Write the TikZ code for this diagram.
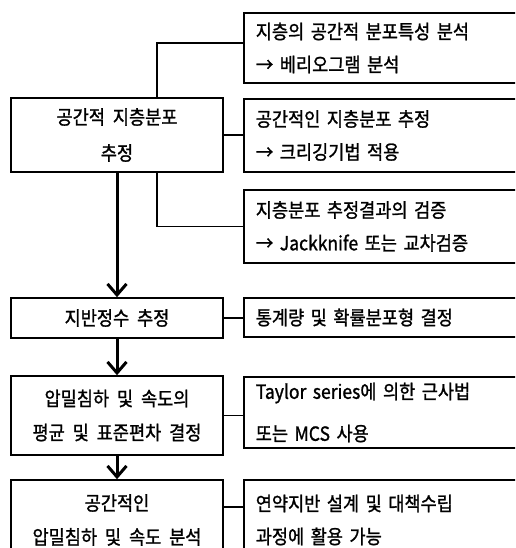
\documentclass[tikz,border=0pt]{standalone}
\usepackage{fontspec}
\newfontfamily\krfont{Noto Sans CJK KR}[WordSpace=2,FakeBold=1.2,FakeStretch=0.9]
\usetikzlibrary{arrows.meta}
\tikzset{
  every node/.style={font=\krfont\fontsize{19.5}{33}\selectfont},
  lbox/.style={draw, line width=1.6pt, minimum width=212pt, align=center, inner sep=0pt},
  rbox/.style={draw, line width=1.6pt, minimum width=290pt, text width=266pt, inner xsep=12pt, inner ysep=0pt, align=left, anchor=west},
  link/.style={line width=1.3pt},
  flow/.style={line width=3pt, -{Straight Barb[length=11pt,width=19pt]}},
}

\begin{document}
\begin{tikzpicture}[x=1pt,y=-1pt]
\useasboundingbox (0,0) rectangle (515,548);
\clip (0,0) rectangle (515,548);
% left column
\node[lbox,minimum height=74pt] (est) at (117,135) {공간적 지층분포\\[3pt]추정};
\node[lbox,minimum height=40pt] (param) at (117,318) {지반정수 추정};
\node[lbox,minimum height=79pt] (mean) at (117,415.5) {압밀침하 및 속도의\\[1pt]평균 및 표준편차 결정};
\node[lbox,minimum height=80pt] (anal) at (117,520) {공간적인\\[1pt]압밀침하 및 속도 분석};
% right column
\node[rbox,minimum height=70pt] (vario) at (243,48) {지층의 공간적 분포특성 분석\\→ 베리오그램 분석};
\node[rbox,minimum height=73pt] (krig) at (243,135.5) {공간적인 지층분포 추정\\→ 크리깅기법 적용};
\node[rbox,minimum height=73pt] (jack) at (243,226.5) {지층분포 추정결과의 검증\\→ Jackknife 또는 교차검증};
\node[rbox,minimum height=39pt] (stat) at (243,317.5) {통계량 및 확률분포형 결정};
\node[rbox,minimum height=71pt] (taylor) at (243,412.5) {Taylor series에 의한 근사법\\[9pt]또는 MCS 사용};
\node[rbox,minimum height=80pt] (use) at (243,520) {연약지반 설계 및 대책수립\\과정에 활용 가능};
% connectors
\coordinate (bx) at (157,0);
\coordinate (c1) at (0,43);
\coordinate (c6) at (0,507);
\draw[link] (bx |- est.north) |- (vario.west |- c1);
\draw[link] (est.east) -- (est.east -| krig.west);
\draw[link] (bx |- est.south) |- (jack.west);
\draw[link] (param.east) -- (param.east -| stat.west);
\draw[link] (mean.east) -- (mean.east -| taylor.west);
\draw[link] (anal.east |- c6) -- (use.west |- c6);
% main flow
\draw[flow] (est.south) -- (param.north);
\draw[flow] (param.south) -- (mean.north);
\draw[flow] (mean.south) -- (anal.north);
\end{tikzpicture}
\end{document}
